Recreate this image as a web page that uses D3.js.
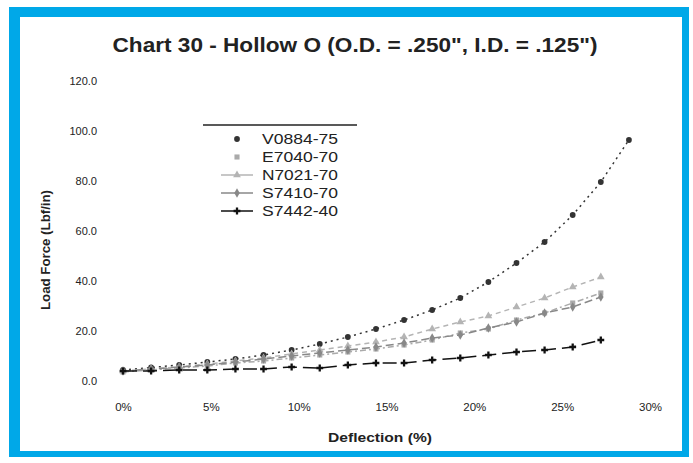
<!DOCTYPE html>
<html><head><meta charset="utf-8">
<script src="https://cdn.jsdelivr.net/npm/d3@7"></script>
<style>body{margin:0;background:#fff;}svg{display:block;font-family:"Liberation Sans",Arial,sans-serif;}</style>
</head><body>
<svg id="c" width="693" height="463"></svg>
<script>
const xTicks = [0, 5, 10, 15, 20, 25, 30];
const yTicks = [0, 20, 40, 60, 80, 100, 120];
const step = 1.6;
const seriesNames = ["V0884-75", "E7040-70", "N7021-70", "S7410-70", "S7442-40"];
const v0884 = [4.4, 5.4, 6.4, 7.6, 8.8, 10.4, 12.4, 14.8, 17.6, 20.8, 24.4, 28.4, 33.2, 39.6, 47.2, 55.6, 66.4, 79.6, 96.4];
const e7040 = [3.6, 4.4, 5.2, 6.0, 7.2, 8.0, 9.2, 10.4, 11.6, 12.8, 14.4, 16.4, 19.2, 20.8, 24.4, 27.2, 31.2, 35.2];
const n7021 = [4.0, 4.8, 5.6, 6.8, 8.0, 9.2, 10.8, 12.4, 14.0, 15.6, 17.6, 20.8, 23.6, 26.0, 29.6, 33.2, 37.6, 41.6];
const s7410 = [4.0, 4.8, 5.6, 6.4, 7.6, 8.8, 10.0, 11.2, 12.4, 13.6, 15.2, 17.2, 18.4, 21.2, 23.6, 27.2, 29.6, 33.6];
const s7442 = [4.0, 4.0, 4.4, 4.4, 4.8, 4.8, 5.6, 5.2, 6.4, 7.2, 7.2, 8.4, 9.2, 10.4, 11.6, 12.4, 13.6, 16.4];

const svg = d3.select("#c");
// frame
svg.append("rect").attr("x", 9).attr("y", 7).attr("width", 680).attr("height", 450).attr("fill", "#00a8e8");
svg.append("rect").attr("x", 20).attr("y", 17).attr("width", 662).attr("height", 434).attr("fill", "#fff");

const x = d3.scaleLinear().domain([0, 30]).range([123, 650]);
const y = d3.scaleLinear().domain([0, 120]).range([381, 81]);

svg.append("text").attr("x", 355).attr("y", 52).attr("text-anchor", "middle")
  .attr("font-size", 20).attr("font-weight", "bold").attr("fill", "#222")
  .attr("textLength", 485).attr("lengthAdjust", "spacingAndGlyphs")
  .text('Chart 30 - Hollow O (O.D. = .250", I.D. = .125")');

const xa = svg.append("g").attr("transform", "translate(0,381)")
  .call(d3.axisBottom(x).tickValues(xTicks).tickFormat(d => d + "%").tickSize(0).tickPadding(22));
xa.select(".domain").remove();
xa.selectAll("text").attr("font-size", 11.5).attr("fill", "#222").attr("font-family", "Liberation Sans, Arial");

const ya = svg.append("g").attr("transform", "translate(99,0)")
  .call(d3.axisLeft(y).tickValues(yTicks).tickFormat(d3.format(".1f")).tickSize(0).tickPadding(2));
ya.select(".domain").remove();
ya.selectAll("text").attr("font-size", 11).attr("fill", "#222").attr("font-family", "Liberation Sans, Arial");

svg.append("text").attr("x", 380).attr("y", 442).attr("text-anchor", "middle")
  .attr("font-size", 13.5).attr("font-weight", "bold").attr("fill", "#222")
  .attr("textLength", 104).attr("lengthAdjust", "spacingAndGlyphs").text("Deflection (%)");
svg.append("text").attr("transform", "translate(50,250) rotate(-90)").attr("text-anchor", "middle")
  .attr("font-size", 12.5).attr("font-weight", "bold").attr("fill", "#222")
  .attr("textLength", 120).attr("lengthAdjust", "spacingAndGlyphs").text("Load Force (Lbf/in)");

const specs = [
  {name: seriesNames[0], data: v0884, color: "#333", dash: "2,4", width: 1.5, marker: "circle"},
  {name: seriesNames[1], data: e7040, color: "#aaa", dash: "6,3,2,3", width: 1.5, marker: "square"},
  {name: seriesNames[2], data: n7021, color: "#b4b4b4", dash: "5,4", width: 1.5, marker: "triangle"},
  {name: seriesNames[3], data: s7410, color: "#888", dash: "8,4", width: 1.5, marker: "diamond"},
  {name: seriesNames[4], data: s7442, color: "#111", dash: "14,6", width: 1.5, marker: "plus"}
];
const symMap = {circle: d3.symbolCircle, square: d3.symbolSquare, triangle: d3.symbolTriangle, diamond: d3.symbolDiamond, plus: d3.symbolCross};
const line = d3.line().x((d, i) => x(i * step)).y(d => y(d));

specs.forEach(s => {
  const g = svg.append("g");
  g.append("path").attr("d", line(s.data)).attr("fill", "none").attr("stroke", s.color)
    .attr("stroke-width", s.width).attr("stroke-dasharray", s.dash);
  g.selectAll("path.m").data(s.data).join("path").attr("class", "m")
    .attr("transform", (d, i) => `translate(${x(i * step)},${y(d)})`)
    .attr("d", d3.symbol(symMap[s.marker], 26)).attr("fill", s.color);
});

// legend
const lg = svg.append("g");
lg.append("line").attr("x1", 203).attr("x2", 357).attr("y1", 125).attr("y2", 125).attr("stroke", "#222").attr("stroke-width", 1.5);
specs.forEach((s, i) => {
  const ly = 139 + i * 18;
  if (i >= 2) {
    lg.append("line").attr("x1", 221).attr("x2", 253).attr("y1", ly).attr("y2", ly)
      .attr("stroke", s.color).attr("stroke-width", 1.5);
  }
  lg.append("path").attr("transform", `translate(237,${ly})`).attr("d", d3.symbol(symMap[s.marker], 26)).attr("fill", s.color);
  lg.append("text").attr("x", 262).attr("y", ly + 5).attr("font-size", 14).attr("fill", "#222")
    .attr("textLength", 76).attr("lengthAdjust", "spacingAndGlyphs").text(s.name);
});
</script>
</body></html>
